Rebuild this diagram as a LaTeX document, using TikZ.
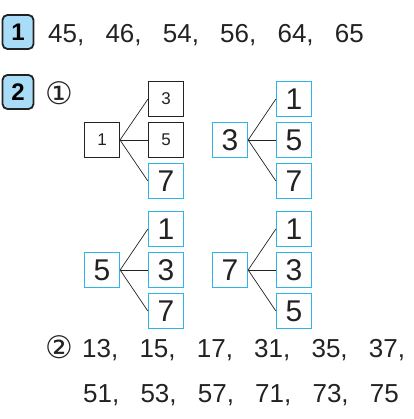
\documentclass[tikz,border=0pt]{standalone}
\usepackage{fontspec}
\setmainfont{Liberation Sans}
\newfontfamily\symfont{DejaVu Sans}
\usetikzlibrary{positioning}
\definecolor{qcyan}{HTML}{2BB5E8}
\definecolor{qfill}{HTML}{A9DDF7}
\definecolor{ink}{HTML}{222222}
\tikzstyle{hd}=[draw=ink, line width=1.8pt, fill=qfill, rounded corners=5pt,
		minimum width=31pt, minimum height=34pt, inner sep=0,
		font=\fontsize{24}{24}\selectfont\bfseries]
\tikzstyle{gv}=[draw=ink, line width=1pt, minimum size=35pt, inner sep=0,
		text=ink, font=\fontsize{17}{17}\selectfont]
\tikzstyle{an}=[draw=qcyan, line width=1.3pt, minimum size=35pt, inner sep=0,
		text=ink, font=\fontsize{30}{30}\selectfont]
\tikzstyle{ln}=[draw=ink, line width=0.7pt]
\tikzstyle{row}=[anchor=base west, inner sep=0, text=ink,
		font=\fontsize{26}{26}\selectfont]
\tikzstyle{circ}=[inner sep=0, text=ink, font=\symfont\fontsize{31}{31}\selectfont]
\newcommand{\gp}{,\hspace{21.2pt}}

\begin{document}
\begin{tikzpicture}[x=1pt, y=-1pt]
	\useasboundingbox (0,0) rectangle (413,419);

	% part 1
	\node[hd] (h1) at (18,32) {1};
	\node[row] (a1) at (48,43) {45\gp 46\gp 54\gp 56\gp 64\gp 65};

	% part 2
	\node[hd] (h2) at (18,92) {2};
	\node[circ] (s1) at (59,93) {①};

	% trees
	\node[gv] (r1) at (102,140) {1};
	\node[gv] (r1a) at (166,99) {3};
	\node[gv] (r1b) at (166,140) {5};
	\node[an] (r1c) at (166,181) {7};

	\node[an] (r3) at (230,140) {3};
	\node[an] (r3a) at (294,99) {1};
	\node[an] (r3b) at (294,140) {5};
	\node[an] (r3c) at (294,181) {7};

	\node[an] (r5) at (102,270) {5};
	\node[an] (r5a) at (166,229) {1};
	\node[an] (r5b) at (166,270) {3};
	\node[an] (r5c) at (166,311) {7};

	\node[an] (r7) at (230,270) {7};
	\node[an] (r7a) at (294,229) {1};
	\node[an] (r7b) at (294,270) {3};
	\node[an] (r7c) at (294,311) {5};

	\foreach \r in {r1,r3,r5,r7}
		\foreach \c in {a,b,c}
			\draw[ln] (\r.east) -- (\r\c.west);

	\node[circ] (s2) at (59,347) {②};
	\node[row] (b1) at (82,357) {13\gp 15\gp 17\gp 31\gp 35\gp 37,};
	\node[row] (b2) at (83,402) {51\gp 53\gp 57\gp 71\gp 73\gp 75};
\end{tikzpicture}
\end{document}
